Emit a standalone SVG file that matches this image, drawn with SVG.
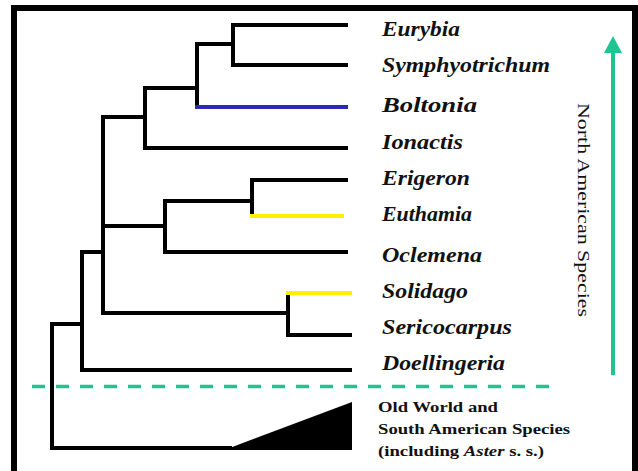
<svg xmlns="http://www.w3.org/2000/svg" width="638" height="471" viewBox="0 0 638 471">
<style>
.br{fill:none;stroke:#000;stroke-width:4;stroke-linecap:square;stroke-linejoin:miter}
.blue{stroke:#2a2ab4}
.yel{stroke:#fff000}
.lab{font-family:"Liberation Serif","Times New Roman",serif;font-weight:bold;font-style:italic;font-size:20px;fill:#111}
.ow{font-family:"Liberation Serif","Times New Roman",serif;font-weight:bold;font-size:15px;fill:#111}
.na{font-family:"Liberation Serif","Times New Roman",serif;font-size:16px;fill:#111}
</style>
<rect x="0" y="0" width="638" height="471" fill="#fff"/>
<g id="frame">
<rect x="11" y="5" width="6" height="466" fill="#000"/>
<rect x="11" y="5" width="627" height="6" fill="#000"/>
<rect x="632" y="5" width="6" height="466" fill="#000"/>
</g>
<g id="connectors">
<path class="br" d="M346 25H233V65H346M233 44H197V107"/>
<path class="br blue" d="M197 107H346"/>
<path class="br" d="M197 88H145V148H346M145 117H103V313H288M252 180H346M252 180V216"/>
<path class="br yel" d="M252 216H342"/>
<path class="br" d="M252 201H165V252H346M103 226H165M288 293V335H350"/>
<path class="br yel" d="M288 293H350"/>
<path class="br" d="M103 252H82V370H350M82 324H52V448H230"/>
<polygon points="227,449 352,402 352,450 227,450" fill="#000"/>
</g>
<g id="divider">
<line x1="32" y1="386.5" x2="552" y2="386.5" stroke="#1fc490" stroke-width="3.5" stroke-dasharray="13 11"/>
</g>
<g id="labels">
<text class="lab" x="382" y="36" textLength="78" lengthAdjust="spacingAndGlyphs">Eurybia</text>
<text class="lab" x="382" y="72" textLength="168" lengthAdjust="spacingAndGlyphs">Symphyotrichum</text>
<text class="lab" x="382" y="112" textLength="95" lengthAdjust="spacingAndGlyphs">Boltonia</text>
<text class="lab" x="382" y="149" textLength="81" lengthAdjust="spacingAndGlyphs">Ionactis</text>
<text class="lab" x="382" y="185" textLength="88" lengthAdjust="spacingAndGlyphs">Erigeron</text>
<text class="lab" x="382" y="221" textLength="90" lengthAdjust="spacingAndGlyphs">Euthamia</text>
<text class="lab" x="382" y="262" textLength="100" lengthAdjust="spacingAndGlyphs">Oclemena</text>
<text class="lab" x="382" y="298" textLength="86" lengthAdjust="spacingAndGlyphs">Solidago</text>
<text class="lab" x="382" y="334" textLength="130" lengthAdjust="spacingAndGlyphs">Sericocarpus</text>
<text class="lab" x="382" y="370" textLength="123" lengthAdjust="spacingAndGlyphs">Doellingeria</text>
</g>
<g id="oldworld">
<text class="ow" x="378" y="412" textLength="120" lengthAdjust="spacingAndGlyphs">Old World and</text>
<text class="ow" x="378" y="434" textLength="192" lengthAdjust="spacingAndGlyphs">South American Species</text>
<text class="ow" x="378" y="456" textLength="166" lengthAdjust="spacingAndGlyphs">(including <tspan font-style="italic">Aster</tspan> s. s.)</text>
</g>
<g id="north-american">
<text class="na" transform="translate(578,103) rotate(90)" x="0" y="0" textLength="214" lengthAdjust="spacingAndGlyphs">North American Species</text>
<line x1="613" y1="50" x2="613" y2="375" stroke="#1fc490" stroke-width="4"/>
<polygon points="613,36 622,53 604,53" fill="#1fc490"/>
</g>
</svg>
